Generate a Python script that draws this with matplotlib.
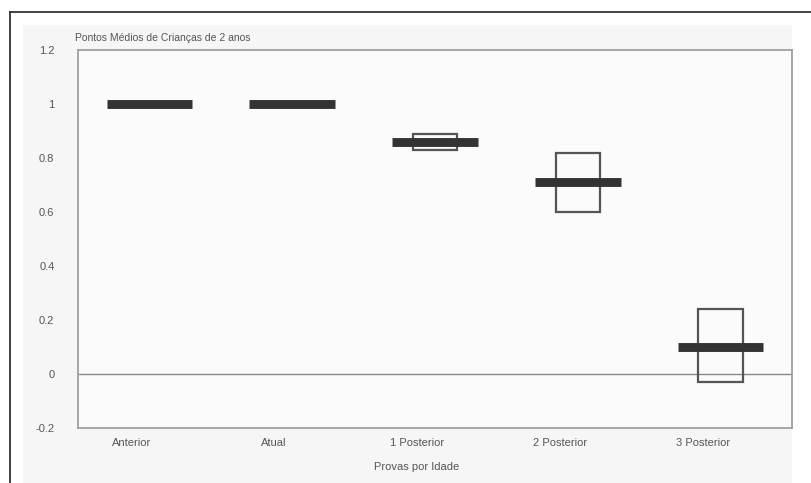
import matplotlib
matplotlib.use("Agg")
import matplotlib.pyplot as plt
from matplotlib.patches import Rectangle
from matplotlib.lines import Line2D
from matplotlib.transforms import ScaledTranslation

plt.rcParams['font.family'] = ['Liberation Sans', 'DejaVu Sans']

categories = ["Anterior", "Atual", "1 Posterior", "2 Posterior", "3 Posterior"]
means = [1.0, 1.0, 0.86, 0.71, 0.10]
box_low = [1.0, 1.0, 0.83, 0.60, -0.03]
box_high = [1.0, 1.0, 0.89, 0.82, 0.24]
yticks = [-0.2, 0, 0.2, 0.4, 0.6, 0.8, 1, 1.2]
ytick_labels = ["-0.2", "0", "0.2", "0.4", "0.6", "0.8", "1", "1.2"]

W, H = 811, 483
fig = plt.figure(figsize=(W / 100, H / 100), dpi=100)
fig.patch.set_facecolor("white")

# chart area background
bg = Rectangle((23 / W, 0), (792 - 23) / W, (H - 25) / H,
               transform=fig.transFigure, facecolor="#f6f6f6",
               edgecolor="none", zorder=-5)
fig.add_artist(bg)
# outer frame lines
fig.add_artist(Line2D([10 / W, 1], [1 - 12 / H, 1 - 12 / H], transform=fig.transFigure,
                      color="#333333", lw=1.3, zorder=-4))
fig.add_artist(Line2D([10 / W, 10 / W], [0, 1 - 12 / H], transform=fig.transFigure,
                      color="#333333", lw=1.3, zorder=-4))

ax = fig.add_axes([78 / W, 55 / H, 714 / W, 378 / H])
ax.set_zorder(1)
ax.set_facecolor("#fbfbfb")
x = list(range(1, len(categories) + 1))
ax.set_xlim(0.5, len(categories) + 0.5)
ax.set_ylim(-0.2, 1.2)

box_w = 0.31
bar_w = 0.6
for xi, lo, hi, m in zip(x, box_low, box_high, means):
    if hi > lo:
        ax.add_patch(Rectangle((xi - box_w / 2, lo), box_w, hi - lo, facecolor="none",
                               edgecolor="#555555", lw=1.6, zorder=3))
    ax.plot([xi - bar_w / 2, xi + bar_w / 2], [m, m], color="#333333", lw=6.4,
            solid_capstyle="butt", zorder=4)

ax.axhline(0, color="#888888", lw=1.0, zorder=2)

for s in ax.spines.values():
    s.set_color("#a0a0a0")
    s.set_linewidth(1.3)

ax.set_yticks(yticks)
ax.set_yticklabels(ytick_labels)
ax.set_xticks(x)
ax.set_xticklabels(categories)
ax.tick_params(axis="both", length=0, labelsize=8, colors="#555555")
ax.tick_params(axis="y", pad=17)
ax.tick_params(axis="x", pad=7)
off = ScaledTranslation(-18 / 100, 0, fig.dpi_scale_trans)
for lab in ax.get_xticklabels():
    lab.set_transform(lab.get_transform() + off)

fig.text(417 / W, 1 - 467 / H, "Provas por Idade", ha="center", va="center",
         fontsize=8, color="#555555")
fig.text(75 / W, 1 - 38 / H, "Pontos Médios de Crianças de 2 anos", ha="left",
         va="center", fontsize=7.5, color="#555555")

fig.savefig("out.png", dpi=100)
